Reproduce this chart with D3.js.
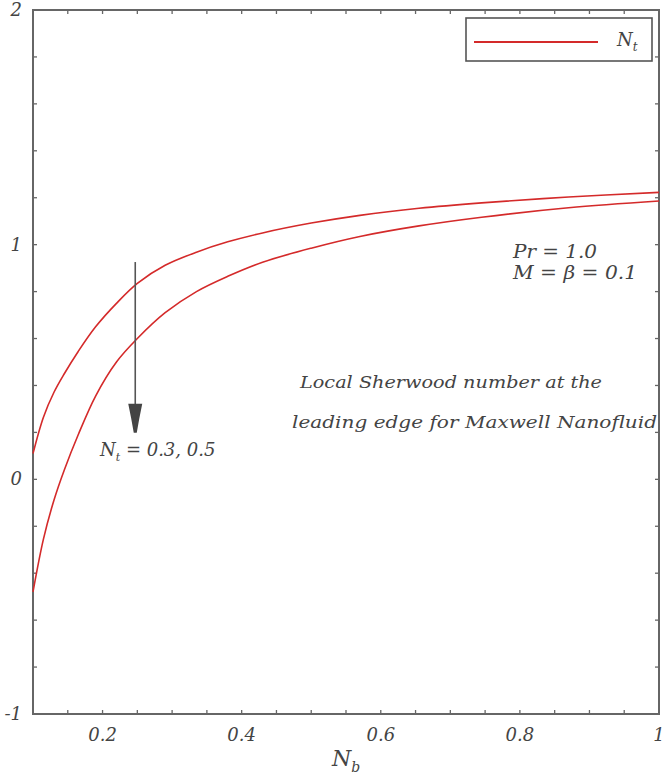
<!DOCTYPE html>
<html>
<head>
<meta charset="utf-8">
<script src="https://cdn.jsdelivr.net/npm/d3@7"></script>
<style>
  html, body { margin: 0; padding: 0; background: #fff; }
  svg { display: block; }
  text { font-family: "DejaVu Serif", "Liberation Serif", serif; font-style: italic; fill: #444; }
</style>
</head>
<body>
<svg id="chart" width="664" height="778"></svg>
<script>
// ---- data ----
const nb = [0.1, 0.115, 0.13, 0.145, 0.165, 0.19, 0.22, 0.25, 0.29, 0.335, 0.38, 0.43, 0.5, 0.57, 0.655, 0.745, 0.87, 1.0];
const shNt03 = [0.11, 0.265, 0.37, 0.45, 0.545, 0.65, 0.75, 0.835, 0.912, 0.968, 1.012, 1.05, 1.092, 1.125, 1.155, 1.178, 1.203, 1.223];
const shNt05 = [-0.48, -0.255, -0.09, 0.04, 0.19, 0.355, 0.5, 0.6, 0.71, 0.8, 0.865, 0.925, 0.985, 1.035, 1.08, 1.117, 1.157, 1.186];
const xTickLabels = ["0.2", "0.4", "0.6", "0.8", "1"];
const xTickValues = [0.2, 0.4, 0.6, 0.8, 1];
const yTickLabels = ["-1", "0", "1", "2"];
const yTickValues = [-1, 0, 1, 2];
const arrowX = 0.247, arrowFrom = 0.926, arrowTo = 0.198;

// ---- layout ----
const svg = d3.select("#chart");
const L = 33, R = 659, T = 10, B = 714;
const x = d3.scaleLinear().domain([0.1, 1]).range([L, R]);
const y = d3.scaleLinear().domain([-1, 2]).range([B, T]);
const axisColor = "#666";

// minor ticks
const xt = d3.range(0, 19).map(i => 0.1 + i * 0.05);
const yt = d3.range(0, 16).map(i => -1 + i * 0.2);
const tk = svg.append("g").attr("stroke", axisColor).attr("stroke-width", 1.3);
xt.forEach(v => {
  tk.append("line").attr("x1", x(v)).attr("x2", x(v)).attr("y1", B).attr("y2", B - 4);
  tk.append("line").attr("x1", x(v)).attr("x2", x(v)).attr("y1", T).attr("y2", T + 4);
});
yt.forEach(v => {
  tk.append("line").attr("x1", L).attr("x2", L + 4).attr("y1", y(v)).attr("y2", y(v));
  tk.append("line").attr("x1", R).attr("x2", R - 4).attr("y1", y(v)).attr("y2", y(v));
});

// frame
svg.append("rect").attr("x", L).attr("y", T).attr("width", R - L).attr("height", B - T)
  .attr("fill", "none").attr("stroke", axisColor).attr("stroke-width", 2);

// tick labels
svg.append("g").selectAll("text").data(xTickValues).join("text")
  .attr("x", d => x(d)).attr("y", 741).attr("text-anchor", "middle")
  .attr("font-size", 18).text((d, i) => xTickLabels[i]);
svg.append("g").selectAll("text").data(yTickValues).join("text")
  .attr("x", 22).attr("y", d => y(d) + 6).attr("text-anchor", "end")
  .attr("font-size", 18).text((d, i) => yTickLabels[i]);

// axis title
const xl = svg.append("text").attr("x", 332).attr("y", 766).attr("font-size", 22);
xl.append("tspan").text("N");
xl.append("tspan").attr("font-size", 14).attr("dy", 6).text("b");

// curves
const line = d3.line().x(d => x(d[0])).y(d => y(d[1])).curve(d3.curveCatmullRom.alpha(0.5));
[shNt03, shNt05].forEach(s => {
  svg.append("path").datum(nb.map((v, i) => [v, s[i]]))
    .attr("d", line).attr("fill", "none").attr("stroke", "#d42a2a").attr("stroke-width", 1.6);
});

// arrow
const ax = x(arrowX), ay1 = y(arrowFrom), ay2 = y(arrowTo);
svg.append("line").attr("x1", ax).attr("x2", ax).attr("y1", ay1).attr("y2", ay2 - 20)
  .attr("stroke", "#555").attr("stroke-width", 1.6);
svg.append("path")
  .attr("d", `M${ax - 7},${ay2 - 29} L${ax + 7},${ay2 - 29} L${ax + 4},${ay2 - 14} L${ax + 1.5},${ay2} L${ax - 1.5},${ay2} L${ax - 4},${ay2 - 14} Z`)
  .attr("fill", "#444");

// annotation N_t = 0.3, 0.5
const nt = svg.append("text").attr("x", 100).attr("y", 456).attr("font-size", 18);
nt.append("tspan").text("N");
nt.append("tspan").attr("font-size", 11).attr("dy", 5).text("t");
nt.append("tspan").attr("dy", -5).text(" = 0.3, 0.5");

// parameters
svg.append("text").attr("x", 513).attr("y", 258).attr("font-size", 18)
  .attr("textLength", 84).attr("lengthAdjust", "spacingAndGlyphs").text("Pr = 1.0");
svg.append("text").attr("x", 513).attr("y", 279).attr("font-size", 18)
  .attr("textLength", 124).attr("lengthAdjust", "spacingAndGlyphs").text("M = β = 0.1");

// description
svg.append("text").attr("x", 300).attr("y", 388).attr("font-size", 17)
  .attr("textLength", 302).attr("lengthAdjust", "spacingAndGlyphs").text("Local Sherwood number at the");
svg.append("text").attr("x", 292).attr("y", 428).attr("font-size", 17)
  .attr("textLength", 365).attr("lengthAdjust", "spacingAndGlyphs").text("leading edge for Maxwell Nanofluid");

// legend
svg.append("rect").attr("x", 466).attr("y", 18).attr("width", 186).attr("height", 43)
  .attr("fill", "#fff").attr("stroke", "#555").attr("stroke-width", 1.6);
svg.append("line").attr("x1", 474).attr("x2", 598).attr("y1", 42).attr("y2", 42)
  .attr("stroke", "#d42a2a").attr("stroke-width", 1.8);
const lg = svg.append("text").attr("x", 617).attr("y", 46).attr("font-size", 18);
lg.append("tspan").text("N");
lg.append("tspan").attr("font-size", 12).attr("dy", 5).text("t");
</script>
</body>
</html>
